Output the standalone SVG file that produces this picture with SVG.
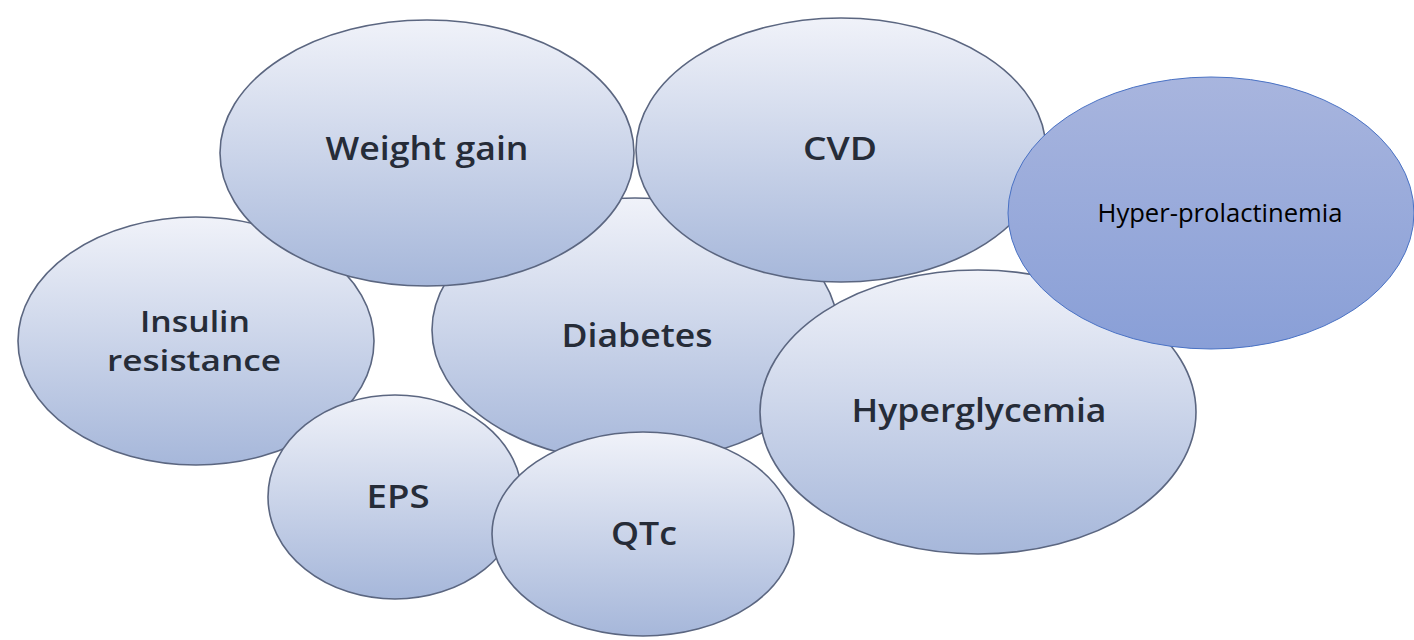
<svg xmlns="http://www.w3.org/2000/svg" width="1414" height="640" viewBox="0 0 1414 640">
<style>
.b{fill:url(#g1);stroke:#5b6680;stroke-width:1.6}
.p{fill:url(#g2);stroke:#4a72c4;stroke-width:1}
.t{font-family:"Open Sans","Liberation Sans",sans-serif;font-weight:600;font-size:32px;fill:#262c38;text-anchor:middle}
.s{font-size:28px}
.r{font-family:"Open Sans","Liberation Sans",sans-serif;font-weight:400;font-size:25px;fill:#000;text-anchor:middle}
</style>
<defs>
<linearGradient id="g1" x1="0" y1="0" x2="0" y2="1">
<stop offset="0" stop-color="#f0f2f9"/>
<stop offset="1" stop-color="#a6b7da"/>
</linearGradient>
<linearGradient id="g2" x1="0" y1="0" x2="0" y2="1">
<stop offset="0" stop-color="#a8b5de"/>
<stop offset="1" stop-color="#899fd7"/>
</linearGradient>
</defs>
<rect width="1414" height="640" fill="#fff"/>
<g id="insulin">
<ellipse class="b" cx="196" cy="341" rx="178" ry="124"/>
<text class="t s" x="195" y="332" textLength="110" lengthAdjust="spacingAndGlyphs">Insulin</text>
<text class="t s" x="194" y="371" textLength="174" lengthAdjust="spacingAndGlyphs">resistance</text>
</g>
<g id="diabetes">
<ellipse class="b" cx="635" cy="330" rx="203" ry="132"/>
<text class="t" x="637" y="347" textLength="151" lengthAdjust="spacingAndGlyphs">Diabetes</text>
</g>
<g id="eps">
<ellipse class="b" cx="395" cy="497" rx="127" ry="102"/>
<text class="t" x="398" y="508" textLength="63" lengthAdjust="spacingAndGlyphs">EPS</text>
</g>
<g id="qtc">
<ellipse class="b" cx="643" cy="534" rx="151" ry="102"/>
<text class="t" x="644" y="545" textLength="66" lengthAdjust="spacingAndGlyphs">QTc</text>
</g>
<g id="weight">
<ellipse class="b" cx="427" cy="153" rx="207" ry="133"/>
<text class="t" x="427" y="160" textLength="203" lengthAdjust="spacingAndGlyphs">Weight gain</text>
</g>
<g id="cvd">
<ellipse class="b" cx="841" cy="150" rx="205" ry="132"/>
<text class="t" x="840" y="160" textLength="74" lengthAdjust="spacingAndGlyphs">CVD</text>
</g>
<g id="hyperglycemia">
<ellipse class="b" cx="978" cy="412" rx="218" ry="142"/>
<text class="t" x="979" y="422" textLength="255" lengthAdjust="spacingAndGlyphs">Hyperglycemia</text>
</g>
<g id="hyperprolactinemia">
<ellipse class="p" cx="1211" cy="213" rx="203" ry="136"/>
<text class="r" x="1220" y="222" textLength="245" lengthAdjust="spacingAndGlyphs">Hyper-prolactinemia</text>
</g>
<g id="connectors"/>
</svg>
